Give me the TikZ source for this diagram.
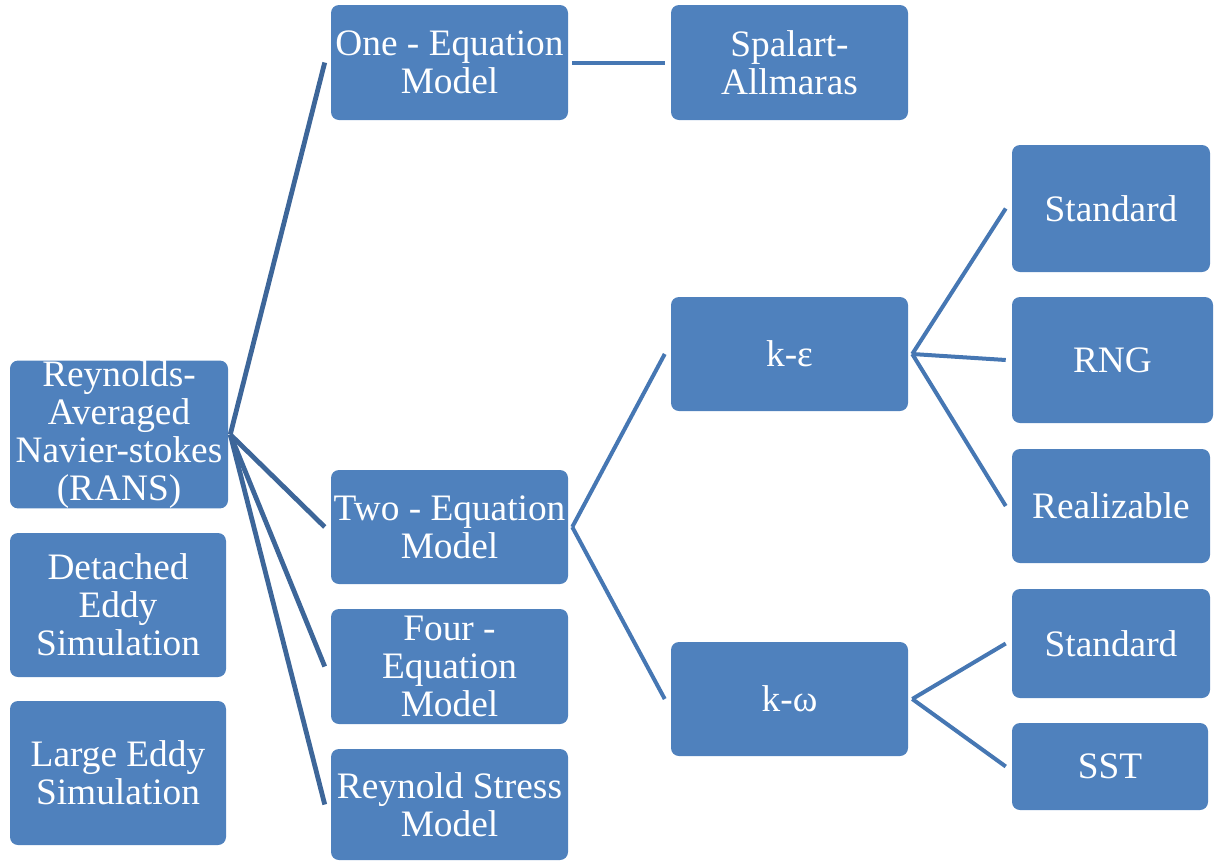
\documentclass[tikz,border=0pt]{standalone}
\usepackage{fontspec}
\setmainfont{Liberation Serif}
\newfontfamily\boxfont{Liberation Serif}
\definecolor{boxblue}{HTML}{4F81BD}
\definecolor{darkline}{HTML}{3D6699}
\definecolor{midline}{HTML}{4677B3}
\begin{document}
\begin{tikzpicture}[x=0.75pt,y=-0.75pt,
  box/.style={fill=boxblue,draw=none,rounded corners=6pt,text=white,align=center,
    inner sep=0pt,font=\boxfont\fontsize{28}{28.5}\selectfont},
  lnk/.style={draw=midline,line width=3pt},
  rlnk/.style={draw=darkline,line width=3.6pt}]
\useasboundingbox (0,0) rectangle (1215,861);
% column 1
\node[box,minimum width=218*0.75pt,minimum height=145*0.75pt] (rans) at (119,434.5) {Reynolds-\\Averaged\\Navier-stokes\\(RANS)};
\node[box,minimum width=216*0.75pt,minimum height=144*0.75pt] (des) at (118,605) {Detached\\Eddy\\Simulation};
\node[box,minimum width=216*0.75pt,minimum height=144*0.75pt] (les) at (118,773) {Large Eddy\\Simulation};
% column 2
\node[box,minimum width=237*0.75pt,minimum height=115*0.75pt] (one) at (449.5,62.5) {One - Equation\\Model};
\node[box,minimum width=237*0.75pt,minimum height=114*0.75pt] (two) at (449.5,527) {Two - Equation\\Model};
\node[box,minimum width=237*0.75pt,minimum height=115*0.75pt] (four) at (449.5,666.5) {Four -\\Equation\\Model};
\node[box,minimum width=237*0.75pt,minimum height=111*0.75pt] (rs) at (449.5,804.5) {Reynold Stress\\Model};
% column 3
\node[box,minimum width=237*0.75pt,minimum height=115*0.75pt] (sa) at (789.5,62.5) {Spalart-\\Allmaras};
\node[box,minimum width=237*0.75pt,minimum height=114*0.75pt] (ke) at (789.5,354) {k-ε};
\node[box,minimum width=237*0.75pt,minimum height=114*0.75pt] (kw) at (789.5,699) {k-ω};
% column 4
\node[box,minimum width=198*0.75pt,minimum height=127*0.75pt] (std1) at (1111,208.5) {Standard};
\node[box,minimum width=201*0.75pt,minimum height=126*0.75pt] (rng) at (1112.5,360) {RNG};
\node[box,minimum width=198*0.75pt,minimum height=114*0.75pt] (real) at (1111,506) {Realizable};
\node[box,minimum width=198*0.75pt,minimum height=109*0.75pt] (std2) at (1111,643.5) {Standard};
\node[box,minimum width=196*0.75pt,minimum height=87*0.75pt] (sst) at (1110,766.5) {SST};
% connectors
\coordinate (ro) at ([xshift=1.5pt]rans.east);
\draw[rlnk] (ro) -- ([xshift=-4.5pt]one.west);
\draw[rlnk] (ro) -- ([xshift=-4.5pt]two.west);
\draw[rlnk] (ro) -- ([xshift=-4.5pt]four.west);
\draw[rlnk] (ro) -- ([xshift=-4.5pt]rs.west);
\draw[lnk] ([xshift=3pt]one.east) -- ([xshift=-4pt]sa.west);
\coordinate (to) at ([xshift=3pt]two.east);
\draw[lnk] (to) -- ([xshift=-4.5pt]ke.west);
\draw[lnk] (to) -- ([xshift=-4.5pt]kw.west);
\coordinate (eo) at ([xshift=3pt]ke.east);
\draw[lnk] (eo) -- ([xshift=-4.5pt]std1.west);
\draw[lnk] (eo) -- ([xshift=-4.5pt]rng.west);
\draw[lnk] (eo) -- ([xshift=-4.5pt]real.west);
\coordinate (wo) at ([xshift=3pt]kw.east);
\draw[lnk] (wo) -- ([xshift=-4.5pt]std2.west);
\draw[lnk] (wo) -- ([xshift=-4.5pt]sst.west);
\end{tikzpicture}
\end{document}
